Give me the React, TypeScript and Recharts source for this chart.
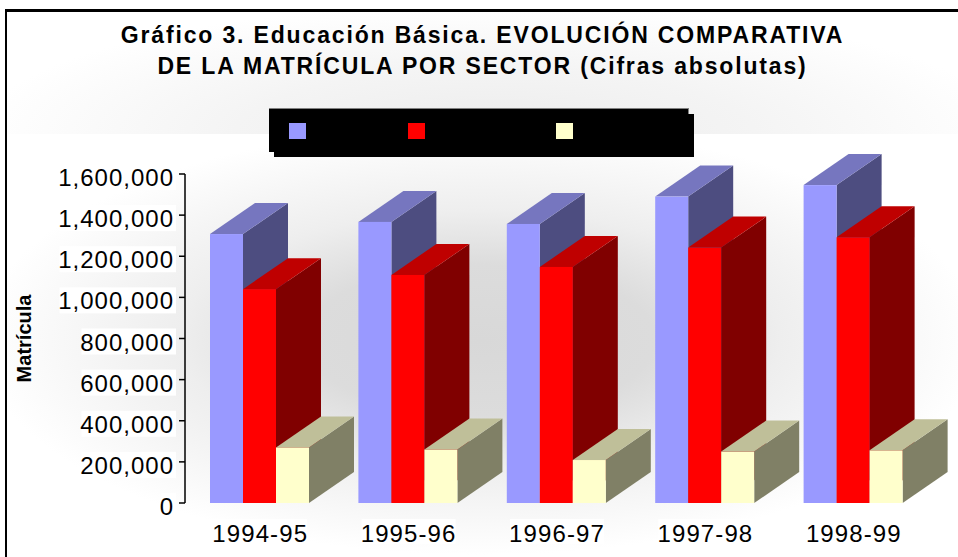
import { BarChart, Bar, XAxis, YAxis } from "recharts"

const YEARS = ["1994-95", "1995-96", "1996-97", "1997-98", "1998-99"]
const TOTAL = [1308000, 1367000, 1357000, 1490000, 1546000]
const PUBLIC_SECTOR = [1040000, 1109000, 1148000, 1242000, 1292000]
const PRIVATE_SECTOR = [270000, 260000, 209000, 250000, 256000]
const Y_TICKS = [0, 200000, 400000, 600000, 800000, 1000000, 1200000, 1400000, 1600000]

const FRONT_COLORS = ["#9999ff", "#ff0000", "#ffffcc"]
const TOP_COLORS = ["#7676bf", "#bf0000", "#bfbf99"]
const SIDE_COLORS = ["#4d4d80", "#800000", "#808066"]
const LEGEND_LEFT = [289, 408, 556]

const FONT = '"Liberation Sans", Arial, sans-serif'
const DEPTH_X = 45
const DEPTH_Y = 31

const chartData = YEARS.map((year, i) => ({
  year,
  total: TOTAL[i],
  publicSector: PUBLIC_SECTOR[i],
  privateSector: PRIVATE_SECTOR[i],
}))

// Front face comes from the bar rectangle, the two extra faces fake the 3D look
function Box3D(props: any) {
  const { x, y, width, height, series } = props
  const right = x + width
  const bottom = y + height
  return (
    <g>
      <polygon
        points={`${right},${y} ${right + DEPTH_X},${y - DEPTH_Y} ${right + DEPTH_X},${bottom - DEPTH_Y} ${right},${bottom}`}
        fill={SIDE_COLORS[series]}
      />
      <polygon
        points={`${x},${y} ${x + DEPTH_X},${y - DEPTH_Y} ${right + DEPTH_X},${y - DEPTH_Y} ${right},${y}`}
        fill={TOP_COLORS[series]}
      />
      <rect x={x} y={y} width={width} height={height} fill={FRONT_COLORS[series]} />
    </g>
  )
}

function YTick({ x, y, payload }: any) {
  const label = Number(payload.value).toLocaleString("en-US")
  const digits = label.replace(/,/g, "").length
  const commas = label.length - digits
  const boxWidth = digits * 14.5 + commas * 7.5
  return (
    <g>
      <rect x={x - boxWidth + 2} y={y - 10} width={boxWidth} height={26} fill="#ffffff" />
      <text x={x} y={y + 12} textAnchor="end" fontFamily={FONT} fontSize={24} letterSpacing={1} fill="#000000">
        {label}
      </text>
    </g>
  )
}

function XTick({ x, y, payload }: any) {
  return (
    <g>
      <rect x={x - 46} y={y + 8} width={94} height={25} fill="#ffffff" />
      <text x={x + 1} y={y + 31} textAnchor="middle" fontFamily={FONT} fontSize={24} letterSpacing={1.1} fill="#000000">
        {payload.value}
      </text>
    </g>
  )
}

function Legend3D() {
  return (
    <>
      <div
        style={{
          position: "absolute",
          left: 269,
          top: 108,
          width: 419,
          height: 43,
          background: "#000",
          borderTop: "1px solid #808080",
          borderRight: "1px solid #808080",
        }}
      />
      <div style={{ position: "absolute", left: 274, top: 114, width: 420, height: 43, background: "#000" }} />
      {LEGEND_LEFT.map((left, i) => (
        <div
          key={left}
          style={{ position: "absolute", left, top: 123, width: 17, height: 16, background: FRONT_COLORS[i] }}
        />
      ))}
    </>
  )
}

const titleStyle = {
  position: "absolute",
  left: 0,
  width: 965,
  textAlign: "center",
  whiteSpace: "nowrap",
  fontFamily: FONT,
  fontWeight: "bold",
  fontSize: 23,
  lineHeight: "28px",
  letterSpacing: 1.84,
  color: "#000",
} as const

export default function App() {
  return (
    <div style={{ position: "absolute", left: 0, top: 0, width: 958, height: 557, background: "#fff", overflow: "hidden" }}>
      {/* backdrop: two soft gray glows split at y=134 */}
      <div
        style={{
          position: "absolute",
          left: 5,
          top: 9,
          width: 953,
          height: 125,
          background: "radial-gradient(ellipse 520px 130px at 490px 125px, #ececec 0%, #f4f4f4 50%, #ffffff 100%)",
        }}
      />
      <div
        style={{
          position: "absolute",
          left: 5,
          top: 134,
          width: 953,
          height: 423,
          background: "radial-gradient(ellipse 500px 215px at 475px 206px, #d8d8d8 0%, #dcdcdc 35%, #eeeeee 60%, #ffffff 100%)",
        }}
      />
      <div style={{ position: "absolute", left: 5, top: 9, width: 953, height: 3, background: "#000" }} />
      <div style={{ position: "absolute", left: 5, top: 9, width: 2, height: 548, background: "#000" }} />

      <div style={{ ...titleStyle, top: 21 }}>Gráfico 3. Educación Básica. EVOLUCIÓN COMPARATIVA</div>
      <div style={{ ...titleStyle, top: 52 }}>DE LA MATRÍCULA POR SECTOR (Cifras absolutas)</div>

      <Legend3D />

      <div style={{ position: "absolute", left: 0, top: 0 }}>
        <BarChart
          width={958}
          height={557}
          data={chartData}
          barSize={33}
          barGap={0}
          margin={{ top: 174, right: 31, bottom: 0, left: 0 }}
        >
          <XAxis dataKey="year" height={54} axisLine={false} tickLine={false} tick={<XTick />} interval={0} />
          <YAxis
            width={185}
            domain={[0, 1600000]}
            ticks={Y_TICKS}
            interval={0}
            tick={<YTick />}
            tickSize={6}
            tickMargin={5}
            axisLine={{ stroke: "#000000", strokeWidth: 1.5 }}
            tickLine={{ stroke: "#000000", strokeWidth: 1.5 }}
            label={{
              value: "Matrícula",
              angle: -90,
              position: "insideLeft",
              offset: 24,
              style: { fontFamily: FONT, fontWeight: "bold", fontSize: 20, fill: "#000000", textAnchor: "middle" },
            }}
          />
          <Bar dataKey="total" isAnimationActive={false} shape={(p: any) => <Box3D {...p} series={0} />} />
          <Bar dataKey="publicSector" isAnimationActive={false} shape={(p: any) => <Box3D {...p} series={1} />} />
          <Bar dataKey="privateSector" isAnimationActive={false} shape={(p: any) => <Box3D {...p} series={2} />} />
        </BarChart>
      </div>
    </div>
  )
}
